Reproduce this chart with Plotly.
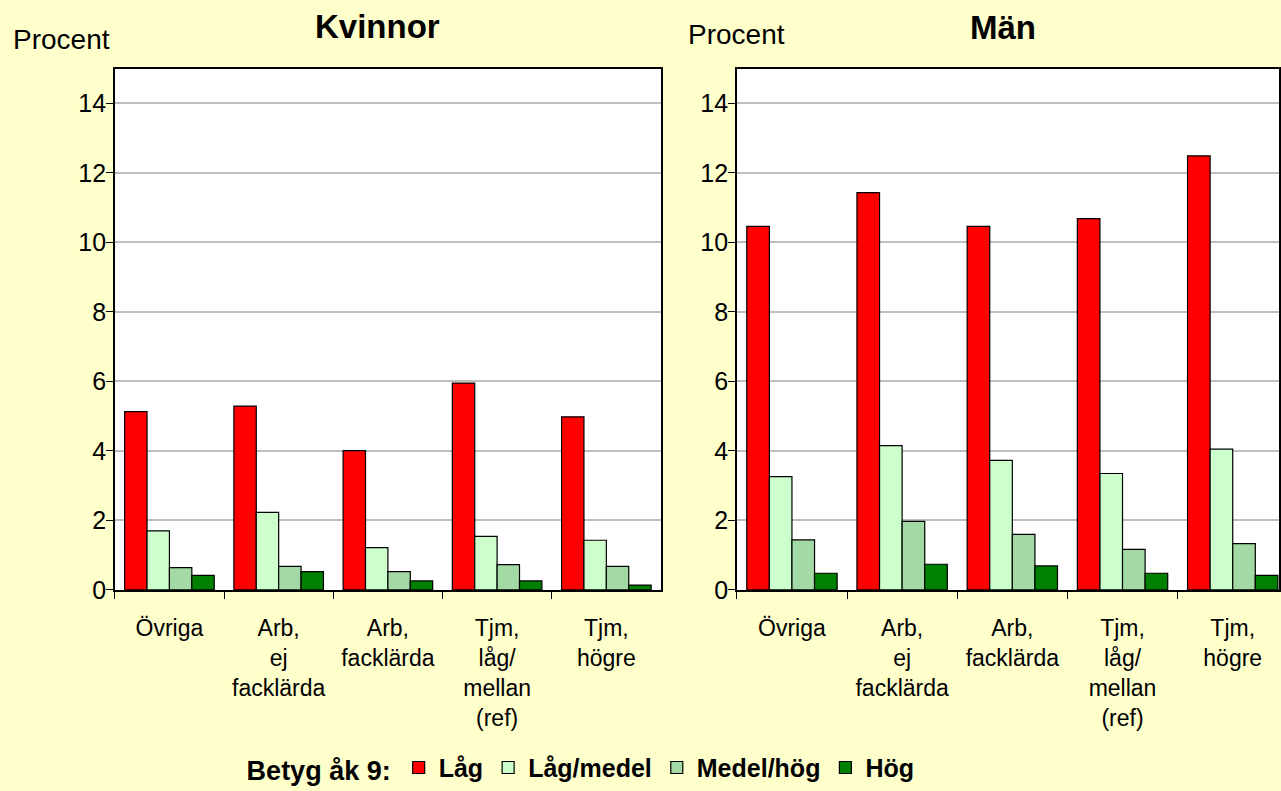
import plotly.graph_objects as go

categories = ["Övriga", "Arb,<br>ej<br>facklärda", "Arb,<br>facklärda",
              "Tjm,<br>låg/<br>mellan<br>(ref)", "Tjm,<br>högre"]
series_names = ["Låg", "Låg/medel", "Medel/hög", "Hög"]

kvinnor_lag = [5.13, 5.29, 4.01, 5.95, 4.98]
kvinnor_lagmedel = [1.70, 2.23, 1.22, 1.54, 1.43]
kvinnor_medelhog = [0.64, 0.68, 0.53, 0.73, 0.68]
kvinnor_hog = [0.42, 0.53, 0.26, 0.26, 0.14]

man_lag = [10.46, 11.43, 10.46, 10.68, 12.49]
man_lagmedel = [3.26, 4.15, 3.73, 3.35, 4.05]
man_medelhog = [1.44, 1.97, 1.60, 1.17, 1.33]
man_hog = [0.48, 0.74, 0.69, 0.48, 0.42]

colors = ["#FF0000", "#CCFFCC", "#A3D9A5", "#008000"]
BG = "#FFFFCC"
FONT = "Liberation Sans, Arial, sans-serif"

fig = go.Figure()
kv = [kvinnor_lag, kvinnor_lagmedel, kvinnor_medelhog, kvinnor_hog]
mn = [man_lag, man_lagmedel, man_medelhog, man_hog]
for i, name in enumerate(series_names):
    fig.add_trace(go.Bar(x=categories, y=kv[i], name=name, marker_color=colors[i],
                         marker_line=dict(color="black", width=1.2),
                         xaxis="x", yaxis="y", showlegend=True))
for i, name in enumerate(series_names):
    fig.add_trace(go.Bar(x=categories, y=mn[i], name=name, marker_color=colors[i],
                         marker_line=dict(color="black", width=1.2),
                         xaxis="x2", yaxis="y2", showlegend=False))

W, H = 1281, 791
S = 1.015  # vertical compensation


def py(y_px):
    return 1 - (y_px * S) / H


ydom = [py(594), py(69)]

xcommon = dict(type="category", tickson="boundaries", ticks="outside", ticklen=7,
               tickcolor="black", showline=True, linecolor="black", linewidth=1.5,
               showgrid=False, tickfont=dict(size=23, color="black", family=FONT),
               ticklabelstandoff=17)
ycommon = dict(range=[0, 15], dtick=2, tick0=0, ticks="outside", ticklen=7,
               tickcolor="black", showline=True, linecolor="black", linewidth=1.5,
               showgrid=True, gridcolor="#BEBEBE", gridwidth=1.5,
               tickfont=dict(size=25, color="black", family=FONT), zeroline=False,
               ticklabelstandoff=-5)

fig.update_layout(
    width=W, height=H, autosize=False,
    paper_bgcolor=BG, plot_bgcolor="white",
    margin=dict(l=0, r=0, t=0, b=0),
    barmode="group", bargap=0.18, bargroupgap=0,
    font=dict(family=FONT, color="black"),
    xaxis=dict(domain=[115 / W, 662 / W], anchor="y", mirror=True,
               range=[-0.5, 4.5], **xcommon),
    yaxis=dict(domain=ydom, anchor="x", mirror=True, **ycommon),
    xaxis2=dict(domain=[738 / W, 1.0], anchor="y2", mirror=True,
                range=[-0.5, 4.42], **xcommon),
    yaxis2=dict(domain=ydom, anchor="x2", mirror=True, **ycommon),
    legend=dict(orientation="h", x=245 / W, xanchor="left", y=py(773), yanchor="middle",
                bgcolor="rgba(0,0,0,0)",
                font=dict(size=25, weight="bold", family=FONT, color="black"),
                title=dict(text="Betyg åk 9:", side="left",
                           font=dict(size=27, weight="bold", family=FONT, color="black")),
                itemwidth=30, tracegroupgap=0),
    annotations=[
        dict(text="Kvinnor", x=378 / W, xanchor="center", y=py(27), xref="paper", yref="paper",
             yanchor="middle", showarrow=False, font=dict(size=33, weight="bold", family=FONT)),
        dict(text="Män", x=1005 / W, xanchor="center", y=py(28), xref="paper", yref="paper",
             yanchor="middle", showarrow=False, font=dict(size=33, weight="bold", family=FONT)),
        dict(text="Procent", x=11 / W, xanchor="left", y=py(40), xref="paper", yref="paper",
             yanchor="middle", showarrow=False, font=dict(size=28, family=FONT)),
        dict(text="Procent", x=687 / W, xanchor="left", y=py(35), xref="paper", yref="paper",
             yanchor="middle", showarrow=False, font=dict(size=28, family=FONT)),
    ],
)

fig.write_html(
    "out.html",
    config={"displayModeBar": False, "responsive": False},
    post_script="document.body.style.margin='0';document.body.style.overflow='hidden';"
                "document.body.style.background='#FFFFCC';",
)
